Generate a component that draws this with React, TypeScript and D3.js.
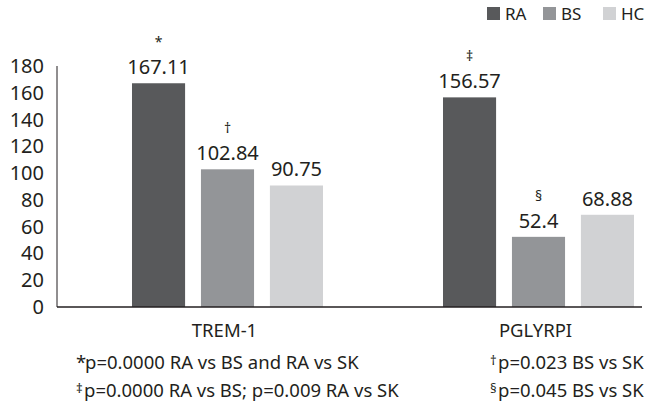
import { useEffect } from 'react';
import * as d3 from 'd3';

const categories = ['TREM-1', 'PGLYRPI'];
const series = ['RA', 'BS', 'HC'];
const values = [
  [167.11, 102.84, 90.75],
  [156.57, 52.4, 68.88],
];
const marks = [
  ['*', '†', ''],
  ['‡', '§', ''],
];
const colors = ['#58595b', '#939598', '#d1d2d4'];
const yTicks = [0, 20, 40, 60, 80, 100, 120, 140, 160, 180];
const notesLeft = [
  ['*', 'p=0.0000 RA vs BS and RA vs SK'],
  ['‡', 'p=0.0000 RA vs BS; p=0.009 RA vs SK'],
];
const notesRight = [
  ['†', 'p=0.023 BS vs SK'],
  ['§', 'p=0.045 BS vs SK'],
];

const W = 661;
const H = 407;
const font = '"Noto Sans", sans-serif';
const ink = '#231f20';

function Note({ x, y, sym, text }: { x: number; y: number; sym: string; text: string }) {
  const big = sym === '*';
  return (
    <g>
      <text x={x} y={big ? y : y - 4} fontSize={big ? 18.5 : 13}>{sym}</text>
      <text x={x + (big ? 9 : 8)} y={y} fontSize={18.5}>{text}</text>
    </g>
  );
}

export default function App() {
  useEffect(() => {
    document.body.style.margin = '0';
  }, []);

  const y = d3.scaleLinear().domain([0, 180]).range([307, 66]);
  const x0 = d3.scaleBand().domain(categories).range([72, 694]).padding(0);
  const x1 = d3.scaleBand()
    .domain(series)
    .range([0, x0.bandwidth()])
    .paddingInner(0.23)
    .paddingOuter(0.87);
  const axisLeft = 57;
  const axisRight = 642;

  return (
    <svg width={W} height={H} style={{ display: 'block' }} fontFamily={font} fill={ink}>
      {/* legend */}
      {series.map((s, i) => {
        const lx = [487, 543, 603][i];
        return (
          <g key={s}>
            <rect x={lx} y={7} width={13} height={13} fill={colors[i]} />
            <text x={lx + 18} y={20} fontSize={17}>{s}</text>
          </g>
        );
      })}

      {/* y tick labels */}
      {yTicks.map(t => (
        <text key={t} x={44} y={y(t)} dy="0.35em" textAnchor="end" fontSize={20}>{t}</text>
      ))}

      {/* bars */}
      {categories.map((c, ci) => (
        <g key={c} transform={`translate(${x0(c)},0)`}>
          {series.map((s, si) => {
            const v = values[ci][si];
            const bx = x1(s)!;
            const cx = bx + x1.bandwidth() / 2;
            const m = marks[ci][si];
            return (
              <g key={s}>
                <rect x={bx} y={y(v)} width={x1.bandwidth()} height={y(0) - y(v)} fill={colors[si]} />
                <text x={cx} y={y(v) - 9} textAnchor="middle" fontSize={20}>{v}</text>
                {m && (
                  <text x={cx} y={y(v) - 36} textAnchor="middle" fontSize={14}>{m}</text>
                )}
              </g>
            );
          })}
          <text x={x0.bandwidth() / 2 - 3} y={337} textAnchor="middle" fontSize={18.5}>{c}</text>
        </g>
      ))}

      {/* axes */}
      <line x1={axisLeft} x2={axisLeft} y1={y(180)} y2={y(0)} stroke="#231f20" strokeWidth={1} />
      <line x1={axisLeft} x2={axisRight} y1={y(0)} y2={y(0)} stroke="#231f20" strokeWidth={1.5} />

      {/* footnotes */}
      {notesLeft.map((n, i) => (
        <Note key={i} x={76} y={369 + i * 28} sym={n[0]} text={n[1]} />
      ))}
      {notesRight.map((n, i) => (
        <Note key={i} x={490} y={369 + i * 28} sym={n[0]} text={n[1]} />
      ))}
    </svg>
  );
}
